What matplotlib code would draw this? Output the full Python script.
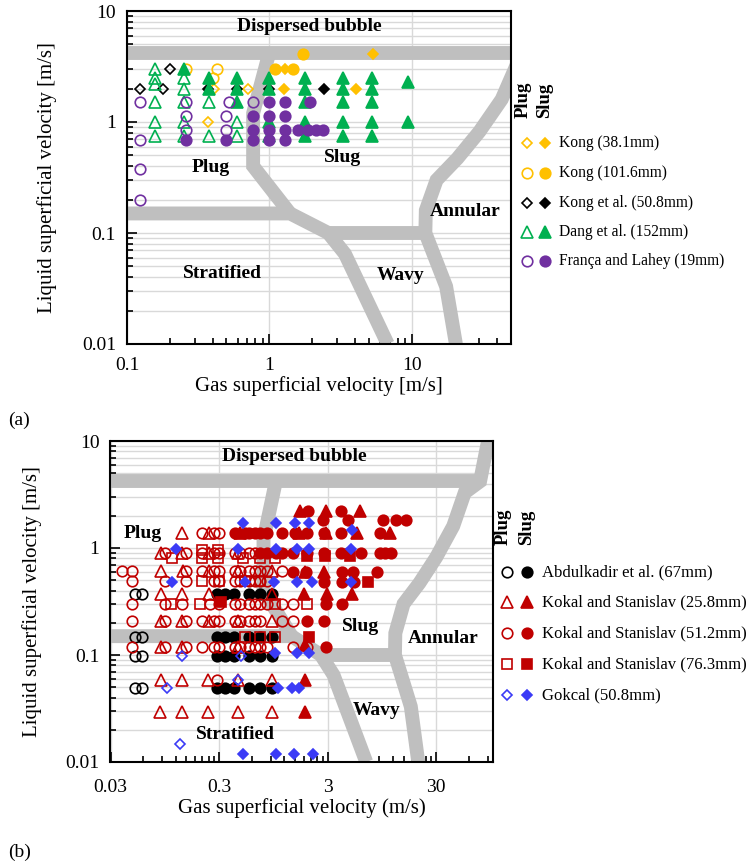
import matplotlib
matplotlib.use("Agg")
import matplotlib.pyplot as plt
from matplotlib.lines import Line2D
from matplotlib.ticker import FixedLocator, FuncFormatter, NullFormatter

plt.rcParams['font.family'] = ['Liberation Serif', 'DejaVu Serif']

# ---------------- flow-pattern boundaries (same map in both panels) ----------------
disp_x = [0.01, 78]
disp_y = [4.2, 4.2]
plugslug_x = [1.0, 0.77, 0.77, 1.4]
plugslug_y = [4.2, 1.2, 0.4, 0.15]
strat_x = [0.01, 1.4, 2.6, 3.4, 6.8]
strat_y = [0.15, 0.15, 0.1, 0.065, 0.01]
wavy_top_x = [2.6, 12.5]
wavy_top_y = [0.1, 0.1]
annular_x = [90, 76, 55, 43, 30, 21, 15, 12.6, 12.5, 17.5, 20.5]
annular_y = [10, 4.2, 3.3, 1.6, 0.82, 0.47, 0.3, 0.16, 0.1, 0.033, 0.01]

# ---------------- panel (a) data ----------------
kong38_plug_x = [0.41, 0.71, 0.37]
kong38_plug_y = [2.0, 2.0, 1.0]
kong38_slug_x = [1.3, 1.27, 4.1, 5.35]
kong38_slug_y = [3.0, 2.0, 2.0, 4.1]

kong101_plug_x = [0.26, 0.43, 0.40]
kong101_plug_y = [3.0, 3.0, 2.5]
kong101_slug_x = [1.09, 1.47, 1.73]
kong101_slug_y = [3.0, 3.0, 4.1]

konget_plug_x = [0.124, 0.18, 0.20]
konget_plug_y = [2.0, 2.0, 3.0]
konget_slug_x = [0.37, 0.59, 1.0, 2.44]
konget_slug_y = [2.0, 2.0, 2.0, 2.0]

dang_plug_x = [0.158, 0.158, 0.158, 0.158, 0.158, 0.158, 0.25, 0.25, 0.25, 0.25, 0.25,
               0.38, 0.38, 0.59, 0.59, 1.0]
dang_plug_y = [3.0, 2.5, 2.2, 1.5, 1.0, 0.75, 2.5, 2.0, 1.5, 1.0, 0.75,
               1.5, 0.75, 1.0, 0.75, 0.75]
dang_slug_x = [0.25, 0.38, 0.38, 0.59, 0.59, 0.59, 1.0, 1.0, 1.0,
               1.78, 1.78, 1.78, 1.78, 1.78, 3.3, 3.3, 3.3, 3.3, 3.3,
               5.3, 5.3, 5.3, 5.3, 5.3, 9.4, 9.4]
dang_slug_y = [3.0, 2.5, 2.0, 2.5, 2.0, 1.5, 2.5, 2.0, 1.0,
               2.5, 2.0, 1.5, 1.0, 0.75, 2.5, 2.0, 1.5, 1.0, 0.75,
               2.5, 2.0, 1.5, 1.0, 0.75, 2.3, 1.0]

franca_plug_x = [0.124, 0.124, 0.124, 0.124, 0.26, 0.26, 0.26, 0.50, 0.50, 0.52, 0.77]
franca_plug_y = [1.5, 0.69, 0.38, 0.2, 1.5, 1.13, 0.85, 1.13, 0.85, 1.5, 1.5]
franca_slug_x = [0.26, 0.50, 0.77, 0.77, 0.77, 1.0, 1.0, 1.0, 1.0,
                 1.3, 1.3, 1.3, 1.3, 1.93, 1.6, 1.86, 2.13, 2.4]
franca_slug_y = [0.69, 0.69, 1.13, 0.85, 0.69, 1.5, 1.13, 0.85, 0.69,
                 1.5, 1.13, 0.85, 0.69, 1.5, 0.85, 0.85, 0.85, 0.85]

# ---------------- panel (b) data (rows: one y level, list of x) ----------------
abd_plug_rows = [0.37, 0.148, 0.098, 0.049]
abd_plug_cols = [[0.05, 0.058], [0.05, 0.058], [0.05, 0.058], [0.05, 0.058]]
abd_slug_rows = [0.37, 0.148, 0.098, 0.049]
abd_slug_cols = [[0.285, 0.34, 0.41, 0.56, 0.72, 0.92],
                 [0.285, 0.34, 0.41, 0.56, 0.72, 0.92],
                 [0.285, 0.34, 0.41, 0.56, 0.72, 0.92],
                 [0.285, 0.34, 0.41, 0.56, 0.72, 0.92]]

k25_plug_rows = [1.37, 0.9, 0.61, 0.37, 0.21, 0.12, 0.059, 0.0295]
k25_plug_cols = [[0.136, 0.24],
                 [0.088, 0.136, 0.24, 0.45],
                 [0.088, 0.14, 0.24, 0.45, 0.93],
                 [0.088, 0.136, 0.24, 0.93],
                 [0.088, 0.136, 0.24, 0.45, 0.93],
                 [0.088, 0.136, 0.45],
                 [0.088, 0.136, 0.239, 0.45, 0.93],
                 [0.086, 0.136, 0.239, 0.45, 0.93]]
k25_slug_rows = [2.2, 1.37, 0.6, 0.37, 0.125, 0.059, 0.0295]
k25_slug_cols = [[1.68, 2.9, 6.0],
                 [0.47, 1.62, 2.9, 5.6, 11.3],
                 [1.86, 2.8],
                 [1.8, 2.95, 5.0],
                 [1.86],
                 [1.86],
                 [1.86]]

k51_plug_rows = [1.37, 0.9, 0.61, 0.49, 0.30, 0.21, 0.12, 0.059]
k51_plug_cols = [[0.208, 0.27, 0.30],
                 [0.095, 0.15, 0.208, 0.27, 0.30, 0.42, 0.47, 0.56, 0.64],
                 [0.038, 0.047, 0.15, 0.208, 0.27, 0.30, 0.42, 0.47, 0.56, 0.64, 0.72, 0.83, 1.15],
                 [0.047, 0.095, 0.15, 0.27, 0.30, 0.42, 0.47, 0.56, 0.64, 0.72, 0.83],
                 [0.047, 0.095, 0.136, 0.25, 0.30, 0.42, 0.47, 0.56, 0.64, 0.72, 0.83, 1.15, 1.45],
                 [0.047, 0.095, 0.15, 0.208, 0.27, 0.30, 0.42, 0.47, 0.56, 0.64, 0.72, 1.15, 1.45],
                 [0.047, 0.095, 0.15, 0.208, 0.27, 0.30, 0.42, 0.47, 0.56, 0.64, 0.72, 0.83, 1.45, 1.93],
                 [0.285]]
k51_slug_rows = [2.2, 1.83, 1.37, 0.9, 0.6, 0.48, 0.30, 0.21, 0.12]
k51_slug_cols = [[1.99, 4.0],
                 [2.74, 4.6, 9.8, 12.8, 15.9],
                 [0.42, 0.52, 0.56, 0.64, 0.72, 0.83, 1.15, 1.5, 1.95, 2.8, 4.0, 9.1],
                 [0.72, 0.83, 1.0, 1.15, 1.45, 1.95, 2.8, 4.0, 4.6, 6.1, 9.1, 10.2, 11.6],
                 [1.45, 1.9, 4.1, 5.1, 8.5],
                 [2.8, 4.1, 5.3],
                 [2.9, 4.1],
                 [1.93, 2.8],
                 [2.87]]

k76_plug_rows = [0.95, 0.8, 0.49, 0.30, 0.148]
k76_plug_cols = [[0.208, 0.296],
                 [0.11, 0.208, 0.296, 0.5, 0.72, 0.98],
                 [0.208, 0.30, 0.52, 0.72],
                 [0.108, 0.20, 0.98, 1.95],
                 [0.52, 0.72, 0.98]]
k76_slug_rows = [0.85, 0.48, 0.31, 0.148]
k76_slug_cols = [[1.93, 2.85, 4.8], [7.0], [0.31], [2.0]]

gok_plug_x = [0.136, 0.48, 0.099, 0.45, 0.13]
gok_plug_y = [0.098, 0.098, 0.049, 0.059, 0.0147]
gok_slug_rows = [1.7, 1.47, 0.97, 0.48, 0.104, 0.049, 0.0118]
gok_slug_cols = [[0.5, 1.0, 1.5, 2.0],
                 [5.0],
                 [0.12, 0.45, 1.0, 1.55, 2.0, 4.9],
                 [0.11, 0.52, 0.96, 1.55, 2.17, 4.9],
                 [0.98, 1.55, 2.0],
                 [1.05, 1.41, 1.62],
                 [0.5, 1.0, 1.47, 2.2]]

ORANGE = '#FFC000'
GREEN = '#00B050'
PURPLE = '#7030A0'
RED = '#C00000'
BLUE = '#3B3BF6'
BAND = '#BFBFBF'
GRID = '#D9D9D9'

# marker sizes (pt)
MS_O = 7.6
MS_T = 8.0
MS_S = 7.0
MS_D = 5.0


def flat(rows, cols):
    xs, ys = [], []
    for y, row in zip(rows, cols):
        xs += list(row)
        ys += [y] * len(row)
    return xs, ys


def pts(ax, x, y, marker, color, ms, filled):
    ax.plot(x, y, ls='none', marker=marker, ms=ms, mew=1.2,
            mec=color, mfc=color if filled else 'none', zorder=4)


def boundaries(ax):
    for bx, by in [(disp_x, disp_y), (plugslug_x, plugslug_y), (strat_x, strat_y),
                   (wavy_top_x, wavy_top_y), (annular_x, annular_y)]:
        ax.plot(bx, by, color=BAND, lw=10, solid_joinstyle='miter',
                solid_capstyle='butt', zorder=2)


def style_axes(ax, xmaj, xmin, xlim, xpad):
    ax.set_xscale('log')
    ax.set_yscale('log')
    ax.set_xlim(*xlim)
    ax.set_ylim(0.01, 10)
    ax.xaxis.set_major_locator(FixedLocator(xmaj))
    ax.xaxis.set_minor_locator(FixedLocator(xmin))
    ax.xaxis.set_minor_formatter(NullFormatter())
    ax.xaxis.set_major_formatter(FuncFormatter(lambda v, p: f'{v:g}'))
    ax.yaxis.set_major_locator(FixedLocator([0.01, 0.1, 1, 10]))
    ax.yaxis.set_minor_locator(FixedLocator(
        [m * d for d in [0.01, 0.1, 1] for m in range(2, 10)]))
    ax.yaxis.set_minor_formatter(NullFormatter())
    ax.yaxis.set_major_formatter(FuncFormatter(lambda v, p: f'{v:g}'))
    ax.grid(True, which='major', axis='x', color=GRID, lw=1.0, zorder=0)
    ax.grid(True, which='both', axis='y', color=GRID, lw=1.0, zorder=0)
    ax.set_axisbelow(True)
    ax.tick_params(which='both', direction='in', width=1.2, labelsize=14)
    ax.tick_params(which='major', length=7)
    ax.tick_params(which='minor', length=4)
    ax.tick_params(axis='x', pad=xpad)
    ax.tick_params(axis='y', pad=8)
    for s in ax.spines.values():
        s.set_linewidth(1.5)


W, H = 746, 867
fig = plt.figure(figsize=(W / 100, H / 100), dpi=100)


def fx(px):
    return px / W


def fy(py):
    return 1 - py / H


# ================= panel (a) =================
ax1 = fig.add_axes([fx(127), fy(344), fx(511) - fx(127), fy(11) - fy(344)])
style_axes(ax1, [0.1, 1, 10],
           [m * d for d in [0.1, 1] for m in range(2, 10)] + [20, 30, 40, 50],
           (0.1, 50), 9)
boundaries(ax1)

pts(ax1, kong38_plug_x, kong38_plug_y, 'D', ORANGE, MS_D, False)
pts(ax1, kong38_slug_x, kong38_slug_y, 'D', ORANGE, MS_D, True)
pts(ax1, kong101_plug_x, kong101_plug_y, 'o', ORANGE, MS_O, False)
pts(ax1, kong101_slug_x, kong101_slug_y, 'o', ORANGE, MS_O, True)
pts(ax1, konget_plug_x, konget_plug_y, 'D', 'black', MS_D, False)
pts(ax1, konget_slug_x, konget_slug_y, 'D', 'black', MS_D, True)
pts(ax1, dang_plug_x, dang_plug_y, '^', GREEN, MS_T, False)
pts(ax1, dang_slug_x, dang_slug_y, '^', GREEN, MS_T, True)
pts(ax1, franca_plug_x, franca_plug_y, 'o', PURPLE, MS_O, False)
pts(ax1, franca_slug_x, franca_slug_y, 'o', PURPLE, MS_O, True)

lab = dict(fontsize=14, fontweight='bold', ha='center', va='center', zorder=5)
ax1.text(1.92, 7.2, 'Dispersed bubble', **lab)
ax1.text(0.39, 0.39, 'Plug', **lab)
ax1.text(3.3, 0.48, 'Slug', **lab)
ax1.text(23.8, 0.155, 'Annular', **lab)
ax1.text(0.47, 0.0436, 'Stratified', **lab)
ax1.text(8.4, 0.041, 'Wavy', **lab)

ax1.set_xlabel('Gas superficial velocity [m/s]', fontsize=15, labelpad=2)
ax1.set_ylabel('Liquid superficial velocity [m/s]', fontsize=15)
ax1.yaxis.set_label_coords(-0.182, 0.5)

# ================= panel (b) =================
ax2 = fig.add_axes([fx(110.5), fy(762), fx(493) - fx(110.5), fy(441) - fy(762)])
style_axes(ax2, [0.03, 0.3, 3, 30],
           [m * d for d in [0.03, 0.3, 3] for m in range(2, 10)] + [60, 90],
           (0.03, 100), 12)
boundaries(ax2)

x, y = flat(abd_plug_rows, abd_plug_cols)
pts(ax2, x, y, 'o', 'black', MS_O, False)
x, y = flat(abd_slug_rows, abd_slug_cols)
pts(ax2, x, y, 'o', 'black', MS_O, True)
x, y = flat(k25_plug_rows, k25_plug_cols)
pts(ax2, x, y, '^', RED, MS_T, False)
x, y = flat(k25_slug_rows, k25_slug_cols)
pts(ax2, x, y, '^', RED, MS_T, True)
x, y = flat(k51_plug_rows, k51_plug_cols)
pts(ax2, x, y, 'o', RED, MS_O, False)
x, y = flat(k51_slug_rows, k51_slug_cols)
pts(ax2, x, y, 'o', RED, MS_O, True)
x, y = flat(k76_plug_rows, k76_plug_cols)
pts(ax2, x, y, 's', RED, MS_S, False)
x, y = flat(k76_slug_rows, k76_slug_cols)
pts(ax2, x, y, 's', RED, MS_S, True)
pts(ax2, gok_plug_x, gok_plug_y, 'D', BLUE, MS_D, False)
x, y = flat(gok_slug_rows, gok_slug_cols)
pts(ax2, x, y, 'D', BLUE, MS_D, True)

ax2.text(1.47, 7.1, 'Dispersed bubble', **lab)
ax2.text(0.060, 1.37, 'Plug', **lab)
ax2.text(6.0, 0.183, 'Slug', **lab)
ax2.text(34.8, 0.144, 'Annular', **lab)
ax2.text(0.42, 0.0179, 'Stratified', **lab)
ax2.text(8.5, 0.0306, 'Wavy', **lab)

ax2.set_xlabel('Gas superficial velocity (m/s)', fontsize=15, labelpad=2)
ax2.set_ylabel('Liquid superficial velocity [m/s]', fontsize=15)
ax2.yaxis.set_label_coords(-0.179, 0.5)


# ================= legends =================
def legend(x_open, x_fill, x_text, rows, entries, hdr_bottom, fs):
    fig.text(fx(x_open - 4), fy(hdr_bottom), 'Plug', rotation=90, ha='center',
             va='bottom', fontsize=13.5, fontweight='bold')
    fig.text(fx(x_fill), fy(hdr_bottom), 'Slug', rotation=90, ha='center',
             va='bottom', fontsize=13.5, fontweight='bold')
    for yy, (mk, col, ms, text) in zip(rows, entries):
        for xx, filled in [(x_open, False), (x_fill, True)]:
            fig.add_artist(Line2D([fx(xx)], [fy(yy)], transform=fig.transFigure,
                                  ls='none', marker=mk, ms=ms, mew=1.2, mec=col,
                                  mfc=col if filled else 'none'))
        fig.text(fx(x_text), fy(yy), text, ha='left', va='center', fontsize=fs)


legend(527, 545, 559, [143, 173, 203, 232, 261],
       [('D', ORANGE, MS_D, 'Kong (38.1mm)'),
        ('o', ORANGE, MS_O, 'Kong (101.6mm)'),
        ('D', 'black', MS_D, 'Kong et al. (50.8mm)'),
        ('^', GREEN, MS_T, 'Dang et al. (152mm)'),
        ('o', PURPLE, MS_O, 'França and Lahey (19mm)')],
       118, 11.2)

legend(507, 527, 542, [572, 602, 633, 664, 695],
       [('o', 'black', MS_O, 'Abdulkadir et al. (67mm)'),
        ('^', RED, MS_T, 'Kokal and Stanislav (25.8mm)'),
        ('o', RED, MS_O, 'Kokal and Stanislav (51.2mm)'),
        ('s', RED, MS_S, 'Kokal and Stanislav (76.3mm)'),
        ('D', BLUE, MS_D, 'Gokcal (50.8mm)')],
       545, 12)

fig.text(fx(8), fy(420), '(a)', fontsize=14, ha='left', va='center')
fig.text(fx(8), fy(852), '(b)', fontsize=14, ha='left', va='center')

fig.savefig('out.png', dpi=100)
